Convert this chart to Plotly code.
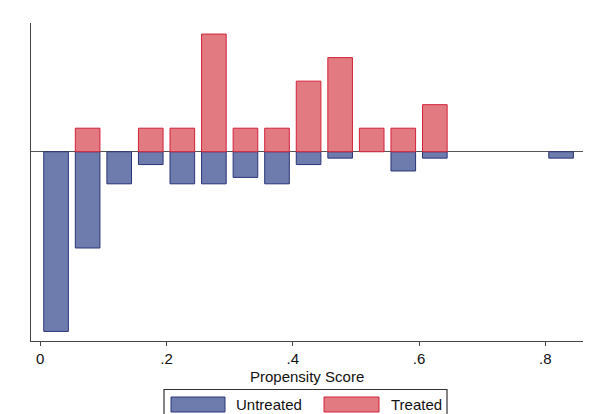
import numpy as np
import plotly.graph_objects as go

# propensity score histogram (psgraph style), bins of width .05
bin_width = 0.05
bin_centers = [0.025, 0.075, 0.125, 0.175, 0.225, 0.275, 0.325, 0.375, 0.425,
               0.475, 0.525, 0.575, 0.625, 0.675, 0.725, 0.775, 0.825]
untreated_counts = [28, 15, 5, 2, 5, 5, 4, 5, 2, 1, 0, 3, 1, 0, 0, 0, 1]
treated_counts = [0, 1, 0, 1, 1, 5, 1, 1, 3, 4, 1, 1, 2, 0, 0, 0, 0]

tick_vals = [0, 0.2, 0.4, 0.6, 0.8]
tick_text = ['0', '.2', '.4', '.6', '.8']


def density(counts, sign):
    c = np.array(counts, dtype=float)
    d = sign * c / (c.sum() * bin_width)
    return np.where(c > 0, d, np.nan)  # no empty outline for empty bins


# treated above zero, untreated mirrored below
untreated = density(untreated_counts, -1)
treated = density(treated_counts, 1)

# page body has an 8px margin, so the figure is a bit smaller than the window
OFF = 8
W, H = 593 - OFF, 414 - OFF
ML, MR, MT, MB = 23, 10, 15, 73
pw, ph = W - ML - MR, H - MT - MB


def px(x):
    # window pixel -> paper x
    return (x - OFF - ML) / pw


def py(y):
    # window pixel -> paper y
    return (H - MB - (y - OFF)) / ph


font = 'Liberation Sans, Arial, sans-serif'
blue, blue_edge = '#6d7cad', '#2c3478'
red, red_edge = '#e27b81', '#d3223a'

fig = go.Figure()
fig.add_trace(go.Bar(x=bin_centers, y=untreated, width=0.039, name='Untreated',
                     marker=dict(color=blue, line=dict(color=blue_edge, width=1))))
fig.add_trace(go.Bar(x=bin_centers, y=treated, width=0.039, name='Treated',
                     marker=dict(color=red, line=dict(color=red_edge, width=1))))

# legend drawn by hand so the swatches get Stata's wide keys
shapes = [
    dict(type='rect', xref='paper', yref='paper', x0=px(164), x1=px(447), y0=py(418), y1=py(389.5),
         line=dict(color='#333', width=1.2), fillcolor='white'),
    dict(type='rect', xref='paper', yref='paper', x0=px(171), x1=px(225), y0=py(412), y1=py(397),
         line=dict(color=blue_edge, width=1), fillcolor=blue),
    dict(type='rect', xref='paper', yref='paper', x0=px(324), x1=px(379), y0=py(412), y1=py(397),
         line=dict(color=red_edge, width=1), fillcolor=red),
]
annotations = [
    dict(text='Propensity Score', xref='paper', yref='paper', x=0.5, y=py(376), xanchor='center',
         yanchor='middle', showarrow=False, font=dict(family=font, size=15, color='#111')),
    dict(text='Untreated', xref='paper', yref='paper', x=px(234), y=py(404.5), xanchor='left',
         yanchor='middle', showarrow=False, font=dict(family=font, size=15, color='#111')),
    dict(text='Treated', xref='paper', yref='paper', x=px(389), y=py(404.5), xanchor='left',
         yanchor='middle', showarrow=False, font=dict(family=font, size=15, color='#111')),
]

fig.update_layout(
    width=W, height=H,
    margin=dict(l=ML, r=MR, t=MT, b=MB),
    barmode='overlay',
    showlegend=False,
    plot_bgcolor='white', paper_bgcolor='white',
    font=dict(family=font, size=15, color='#111'),
    shapes=shapes, annotations=annotations,
    xaxis=dict(range=[-0.0147, 0.8597], tickvals=tick_vals, ticktext=tick_text,
               ticks='outside', ticklen=4, tickcolor='#444', showline=True, linecolor='#444',
               linewidth=1.2, showgrid=False, zeroline=False),
    yaxis=dict(range=[-7.66, 5.21], showticklabels=False, ticks='', showline=True,
               linecolor='#444', linewidth=1.2, showgrid=False,
               zeroline=True, zerolinecolor='#555', zerolinewidth=1.2),
)

fig.write_html("out.html")
